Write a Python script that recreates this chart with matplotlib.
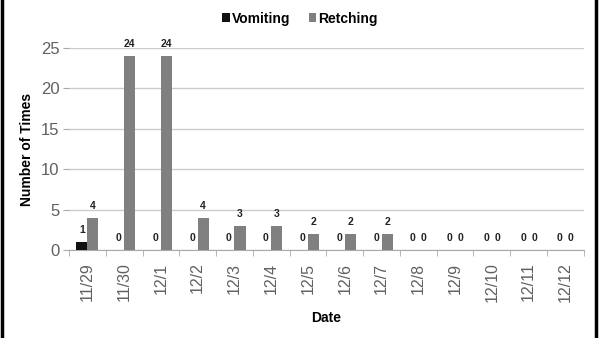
import matplotlib
matplotlib.use('Agg')
import matplotlib.pyplot as plt
import numpy as np
from matplotlib.lines import Line2D

plt.rcParams['font.family'] = ['Liberation Sans', 'DejaVu Sans']

dates = ['11/29', '11/30', '12/1', '12/2', '12/3', '12/4', '12/5',
         '12/6', '12/7', '12/8', '12/9', '12/10', '12/11', '12/12']
vomiting = [1, 0, 0, 0, 0, 0, 0, 0, 0, 0, 0, 0, 0, 0]
retching = [4, 24, 24, 4, 3, 3, 2, 2, 2, 0, 0, 0, 0, 0]


def main():
    fig = plt.figure(figsize=(6, 3.38), dpi=100)
    ax = fig.add_axes([0.115, 0.26, 0.858, 0.598])

    x = np.arange(len(dates))
    w = 0.3
    b1 = ax.bar(x - w / 2, vomiting, w, color='#111111', label='Vomiting', zorder=3)
    b2 = ax.bar(x + w / 2, retching, w, color='#808080', label='Retching', zorder=3)

    # value labels above each bar
    for bars in (b1, b2):
        for rect in bars:
            h = rect.get_height()
            ax.annotate(f'{int(h)}', (rect.get_x() + rect.get_width() / 2, h),
                        xytext=(0, 5), textcoords='offset points',
                        ha='center', va='bottom', fontsize=7.5,
                        fontweight='bold', color='#222222')

    ax.set_xlim(-0.5, len(dates) - 0.5)
    ax.set_ylim(0, 25)
    ax.set_yticks([0, 5, 10, 15, 20, 25])
    ax.yaxis.grid(True, color='#cccccc', linewidth=1, zorder=0)
    ax.set_axisbelow(True)

    ax.set_xticks(x)
    ax.set_xticklabels(dates, rotation=90, fontsize=11.5, color='#606060')
    ax.set_xticks(np.arange(-0.5, len(dates)), minor=True)
    ax.tick_params(axis='x', which='major', length=0, pad=9)
    ax.tick_params(axis='x', which='minor', length=4, color='#aaaaaa')
    ax.tick_params(axis='y', length=4, color='#aaaaaa', labelsize=12,
                   labelcolor='#606060', pad=3)

    for s in ('top', 'right', 'left'):
        ax.spines[s].set_visible(False)
    ax.spines['bottom'].set_color('#aaaaaa')

    ax.set_ylabel('Number of Times', fontsize=10, fontweight='bold', labelpad=5)
    ax.set_xlabel('Date', fontsize=10, fontweight='bold', labelpad=6)

    fig.legend(loc='center', bbox_to_anchor=(0.5, 0.945), ncol=2,
               frameon=False, handlelength=0.55, handleheight=0.55,
               handletextpad=0.15, columnspacing=1.3,
               prop={'size': 10, 'weight': 'bold'})

    # black side lines of the picture frame
    for xf in (0.003, 0.993):
        fig.add_artist(Line2D([xf, xf], [0, 1], transform=fig.transFigure,
                              color='black', linewidth=2.5))

    fig.savefig('out.png', dpi=100)


if __name__ == '__main__':
    main()
